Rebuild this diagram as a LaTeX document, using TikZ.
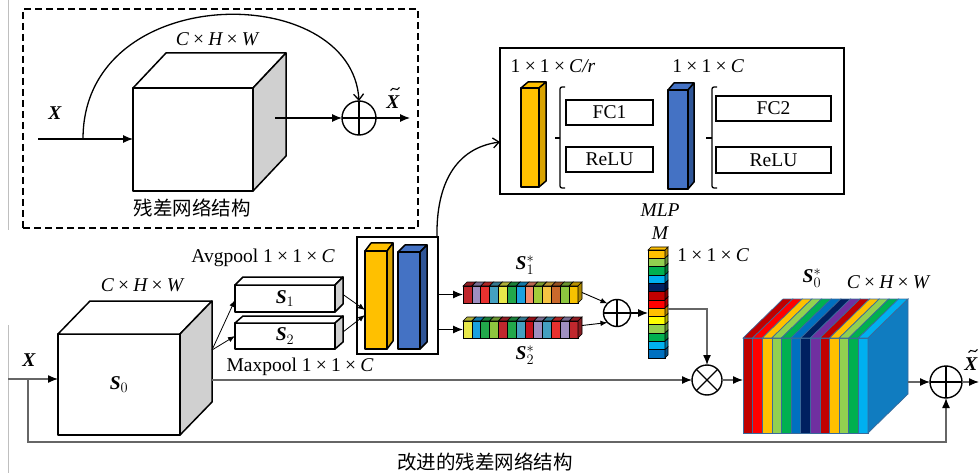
\documentclass[tikz,border=0pt]{standalone}
\usepackage{fontspec}
\setmainfont{Liberation Serif}
\newfontfamily\cjk{Noto Sans CJK SC}
\setmathrm{Liberation Serif}
\usetikzlibrary{arrows.meta,calc}

\definecolor{cubeside}{HTML}{D0D0D0}
\definecolor{yel}{HTML}{FFC000}
\definecolor{yelside}{HTML}{D9A300}
\definecolor{blu}{HTML}{4472C4}
\definecolor{bluside}{HTML}{2F5597}
% S* cells
\definecolor{cDR}{HTML}{C0272D}
\definecolor{cLav}{HTML}{9E8FC0}
\definecolor{cR}{HTML}{E8312F}
\definecolor{cTeal}{HTML}{44A0C0}
\definecolor{cY}{HTML}{E8E84A}
\definecolor{cG}{HTML}{22A84B}
\definecolor{cSky}{HTML}{1BA1DF}
\definecolor{cSal}{HTML}{F48B6A}
\definecolor{cLG}{HTML}{A2CC3A}
\definecolor{cGold}{HTML}{F6C343}
\definecolor{cBr}{HTML}{C9692C}
\definecolor{cLGb}{HTML}{8DC63F}
\definecolor{cGoldb}{HTML}{F7C200}
\definecolor{cCr}{HTML}{C4121C}
% office palette
\definecolor{kDR}{HTML}{C00000}
\definecolor{kR}{HTML}{FF0000}
\definecolor{kGold}{HTML}{FFC000}
\definecolor{kY}{HTML}{FFFF00}
\definecolor{kLG}{HTML}{92D050}
\definecolor{kG}{HTML}{00B050}
\definecolor{kSky}{HTML}{00B0F0}
\definecolor{kBlue}{HTML}{0070C0}
\definecolor{kNavy}{HTML}{002060}
\definecolor{kPur}{HTML}{7030A0}
\definecolor{kSide}{HTML}{107CC0}
\definecolor{kLine}{HTML}{3A6A9A}

\newcommand\mytimes{\makebox[1em]{×}}
\newcommand\mychw{{\itshape C}\mytimes{\itshape H}\mytimes{\itshape W}}
\newcommand\mybs{\textbf{\textit{S}}}
\newcommand\mybx{\textbf{\textit{X}}}
% drawn tilde above a point (x,y) in pixel coordinates
\newcommand\mytilde[2]{\draw[line width=1.1pt] (#1-4.5,#2+1.5) .. controls (#1-1.5,#2-4) and (#1+1.5,#2+4) .. (#1+4.5,#2-1.5);}

\tikzset{
  cubel/.style={draw=black, line width=1.5pt, line join=round},
  cubef/.style={draw=black, line width=1.5pt, inner sep=0pt, outer sep=0pt, line join=round},
  conn/.style={line width=1.1pt, draw=black},
  gconn/.style={line width=1.3pt, draw=black!60},
  arr/.style={-{Latex[length=10pt,width=8pt,black]}},
  sarr/.style={-{Latex[length=7pt,width=5.5pt,black]}},
  barb/.style={-{Straight Barb[length=6pt,width=10pt]}},
  opl/.style={circle, draw, line width=1.4pt, inner sep=0pt, outer sep=0pt,
    path picture={\draw[line width=1.2pt] (path picture bounding box.north) -- (path picture bounding box.south)
      (path picture bounding box.west) -- (path picture bounding box.east);}},
  otl/.style={circle, draw, line width=1.4pt, inner sep=0pt, outer sep=0pt,
    path picture={\draw[line width=1.2pt] (path picture bounding box.north west) -- (path picture bounding box.south east)
      (path picture bounding box.north east) -- (path picture bounding box.south west);}},
  boxn/.style={draw, line width=1.4pt, inner sep=0pt, outer sep=0pt},
  cell/.style={draw=black, line width=0.6pt},
  kline/.style={draw=kLine, line width=0.7pt},
  lbl/.style={inner sep=0pt},
  brk/.style={line width=1.3pt, rounded corners=2pt},
}

\newcommand\cubo[9]{%
  \node[cubef, fill=#7, minimum width=#3, minimum height=#4] (#1) at #2 {#9};
  \draw[cubel, fill=#7] (#1.north west) -- ++(#5,#6) -- ($(#1.north east)+(#5,#6)$) -- (#1.north east) -- cycle;
  \draw[cubel, fill=#8] (#1.north east) -- ($(#1.north east)+(#5,#6)$) -- ($(#1.south east)+(#5,#6)$) -- (#1.south east) -- cycle;
}

\begin{document}
\begin{tikzpicture}[x=1pt,y=-1pt,font=\fontsize{19.5}{23}\selectfont]
\useasboundingbox (0,0) rectangle (980,473);
\fill[white] (0,0) rectangle (980,473);

% faint page-edge lines
\draw[black!25, line width=0.8pt] (8,0) -- (8,230) (8,325) -- (8,473);

% ================= top: residual structure =================
\node[draw, line width=1.6pt, dash pattern=on 7pt off 4pt, minimum width=395pt, minimum height=219pt, inner sep=0pt, outer sep=0pt] (res) at (220.5,118.5) {};
\cubo{c1}{(193,139.5)}{120pt}{103pt}{33}{-35}{white}{cubeside}{}
\node[lbl] (l1) at (217,39) {\mychw};
\node[lbl] (x1) at (55,113) {\mybx};
\node[opl, minimum size=34pt] (p1) at (359,118) {};
\node[lbl] (xt1) at (393,102) {\mybx};
\mytilde{395}{89}
\node[lbl] (rt) at (192,208) {\cjk 残差网络结构};
\coordinate (in1) at (38,139);
\coordinate (b1) at (83,139);
\coordinate (c1o) at (275,118);
\coordinate (o1) at (410,118);
\draw[conn, arr] (in1) -- (in1 -| c1.west);
\draw[conn, line width=1.3pt, barb] (b1) .. controls (83,-20) and (352,-20) .. (p1.north);
\draw[conn, arr] (c1o) -- (p1.west);
\draw[conn, arr] (p1.east) -- (o1);

% ================= MLP =================
\node[boxn, line width=1.6pt, minimum width=344pt, minimum height=146pt] (mlp) at (672,121) {};
\node[lbl] (mlpl) at (660,210) {\itshape MLP};
\node[lbl] (d1) at (553,66) {1\mytimes1\mytimes{\itshape C/r}};
\node[lbl] (d2) at (708,66) {1\mytimes1\mytimes{\itshape C}};
\cubo{my}{(530,137.5)}{18pt}{99pt}{7}{-6}{yel}{yelside}{}
\cubo{mb}{(678,139.5)}{20pt}{99pt}{6}{-7}{blu}{bluside}{}
\draw[brk] (565,87) -- (560,87) -- (560,188) -- (565,188);
\draw[brk] (560,138) -- (555,138);
\draw[brk] (717,87) -- (712,87) -- (712,188) -- (717,188);
\draw[brk] (712,138) -- (706,138);
\node[boxn, minimum width=87pt, minimum height=25pt] (fc1) at (609.5,112.5) {FC1};
\node[boxn, minimum width=87pt, minimum height=25pt] (re1) at (609.5,159.5) {ReLU};
\node[boxn, minimum width=115pt, minimum height=25pt] (fc2) at (773.5,108.5) {FC2};
\node[boxn, minimum width=115pt, minimum height=26pt] (re2) at (773.5,160) {ReLU};

% ================= bottom: improved residual =================
\cubo{s0}{(119,384.5)}{122pt}{101pt}{32}{-33}{white}{cubeside}{$\mybs_{0}$}
\node[lbl] (l2) at (142,285) {\mychw};
\node[lbl] (x2) at (29,360) {\mybx};
\cubo{s1}{(285,298.5)}{100pt}{27pt}{8}{-8}{white}{cubeside}{$\mybs_{1}$}
\cubo{s2}{(285,336)}{100pt}{26pt}{8}{-7}{white}{cubeside}{$\mybs_{2}$}
\node[lbl] (avg) at (263,258) {Avgpool 1\mytimes1\mytimes{\itshape C}};
\node[lbl] (max) at (300,367) {Maxpool 1\mytimes1\mytimes{\itshape C}};

% SE block
\node[boxn, minimum width=81pt, minimum height=117pt] (se) at (397.5,295.5) {};
\cubo{yb}{(376,300)}{22pt}{98pt}{6}{-8}{yel}{yelside}{}
\cubo{bb}{(409,300.5)}{22pt}{97pt}{7}{-7}{blu}{bluside}{}

% S1* bar
\node[inner sep=0pt, outer sep=0pt, minimum width=115pt, minimum height=17pt] (s1s) at (520.5,294.5) {};
\foreach \c [count=\i from 0] in {cDR,cLav,cR,cTeal,cY,cG,cSky,cSal,cLG,cGold,cBr,cLGb,cGoldb} {
  \draw[cell, fill=\c] ({463+\i*8.846},286) rectangle ({463+(\i+1)*8.846},303);
  \draw[cell, fill=\c!75!black] ({463+\i*8.846},286) -- ++(4,-4) -- ++(8.846,0) -- ({463+(\i+1)*8.846},286) -- cycle;
}
\draw[cell, fill=cGoldb!70!black] (578,286) -- ++(4,-4) -- ++(0,17) -- (578,303) -- cycle;
% S2* bar
\node[inner sep=0pt, outer sep=0pt, minimum width=115pt, minimum height=17pt] (s2s) at (520.5,329.5) {};
\foreach \c [count=\i from 0] in {cY,cSky,cG,cLGb,cDR,cG,cTeal,cCr,cLav,cTeal,cR,cLav,cDR} {
  \draw[cell, fill=\c] ({463+\i*8.846},321) rectangle ({463+(\i+1)*8.846},338);
  \draw[cell, fill=\c!75!black] ({463+\i*8.846},321) -- ++(4,-4) -- ++(8.846,0) -- ({463+(\i+1)*8.846},321) -- cycle;
}
\draw[cell, fill=cDR!70!black] (578,321) -- ++(4,-4) -- ++(0,17) -- (578,338) -- cycle;
\node[lbl] (s1l) at (525,265) {$\mybs^{*}_{1}$};
\node[lbl] (s2l) at (525,355) {$\mybs^{*}_{2}$};

\node[opl, minimum size=27pt] (p2) at (617,313) {};

% M bar
\node[inner sep=0pt, outer sep=0pt, minimum width=17pt, minimum height=108pt] (mbar) at (656.5,304) {};
\foreach \c [count=\i from 0] in {kGold,kLG,kG,kSky,kNavy,kDR,kR,kGold,kY,kLG,kG,kSky,kBlue} {
  \draw[cell, fill=\c] (648,{250+\i*8.308}) rectangle (665,{250+(\i+1)*8.308});
  \draw[cell, fill=\c!70!black] (665,{250+\i*8.308}) -- ++(3,-3) -- ++(0,8.308) -- (665,{250+(\i+1)*8.308}) -- cycle;
}
\draw[cell, fill=kGold] (648,250) -- ++(3,-3) -- ++(17,0) -- (665,250) -- cycle;
\node[lbl] (ml) at (660,233) {\itshape M};
\node[lbl] (md) at (713,255) {1\mytimes1\mytimes{\itshape C}};

\node[otl, minimum size=30pt] (ot) at (707,380) {};

% coloured cube S0*
\node[inner sep=0pt, outer sep=0pt, minimum width=125pt, minimum height=95pt] (s0s) at (805.5,385.5) {};
\foreach \c [count=\i from 0] in {kDR,kR,kGold,kLG,kG,kBlue,kNavy,kPur,kDR,kGold,kLG,kG,kSky} {
  \draw[kline, fill=\c] ({743+\i*9.615},338) rectangle ({743+(\i+1)*9.615},433);
  \draw[kline, fill=\c] ({743+\i*9.615},338) -- ++(40,-39) -- ++(9.615,0) -- ({743+(\i+1)*9.615},338) -- cycle;
}
\draw[kline, fill=kSide] (868,338) -- ++(40,-39) -- ++(0,95) -- (868,433) -- cycle;
\node[lbl] (s0sl) at (812,278) {$\mybs^{*}_{0}$};
\node[lbl] (l3) at (888,282) {\mychw};

\node[opl, minimum size=32pt] (p3) at (946,382) {};
\node[lbl] (xt2) at (971,364) {\mybx};
\mytilde{973}{351}
\node[lbl] (cap) at (485,462) {\cjk 改进的残差网络结构};

% ---------- connectors ----------
\coordinate (in2) at (8,379);
\coordinate (b2) at (28,379);
\coordinate (loopc) at (946,442);
\coordinate (s0o) at (212,380);
\coordinate (s0m) at (212,350);
\coordinate (cubeo) at (908,382);
\coordinate (o2) at (979,382);
\draw[gconn, arr] (in2) -- (in2 -| s0.west);
\draw[gconn, arr] (b2) |- (loopc) -- (p3.south);
\draw[gconn, arr] (s0o) -- (ot.west);
\draw[conn, line width=0.8pt, sarr] (s0m) -- ([yshift=-1.5pt]s1.west);
\draw[conn, line width=0.8pt, sarr] (s0m) -- (s2.west);
\draw[conn, line width=0.8pt, sarr] ($(s1.east)+(8,-4)$) -- ([yshift=-10pt]yb.west);
\draw[conn, line width=0.8pt, sarr] ($(s2.east)+(8,-4)$) -- ([yshift=-15pt]yb.west);
\draw[conn, arr] (se.east |- s1s.west) -- (s1s.west);
\draw[conn, arr] (se.east |- s2s.west) -- (s2s.west);
\draw[conn, line width=1.3pt, barb] ([xshift=-1pt]se.north east) .. controls (436,185) and (455,148) .. (mlp.west |- 0,142);
\draw[conn, line width=0.9pt, sarr] ($(s1s.east)+(4,-2)$) -- (p2.north west);
\draw[conn, line width=0.9pt, sarr] ($(s2s.east)+(4,-4)$) -- (p2.south west);
\draw[conn, arr] (p2.east) -- (mbar.west |- p2.east);
\draw[gconn, arr] ($(mbar.east)+(3,5)$) -| (ot.north);
\draw[gconn, arr] (ot.east) -- (ot.east -| s0s.west);
\draw[gconn, arr] (cubeo) -- (p3.west);
\draw[gconn, arr] (p3.east) -- (o2);
\end{tikzpicture}
\end{document}
